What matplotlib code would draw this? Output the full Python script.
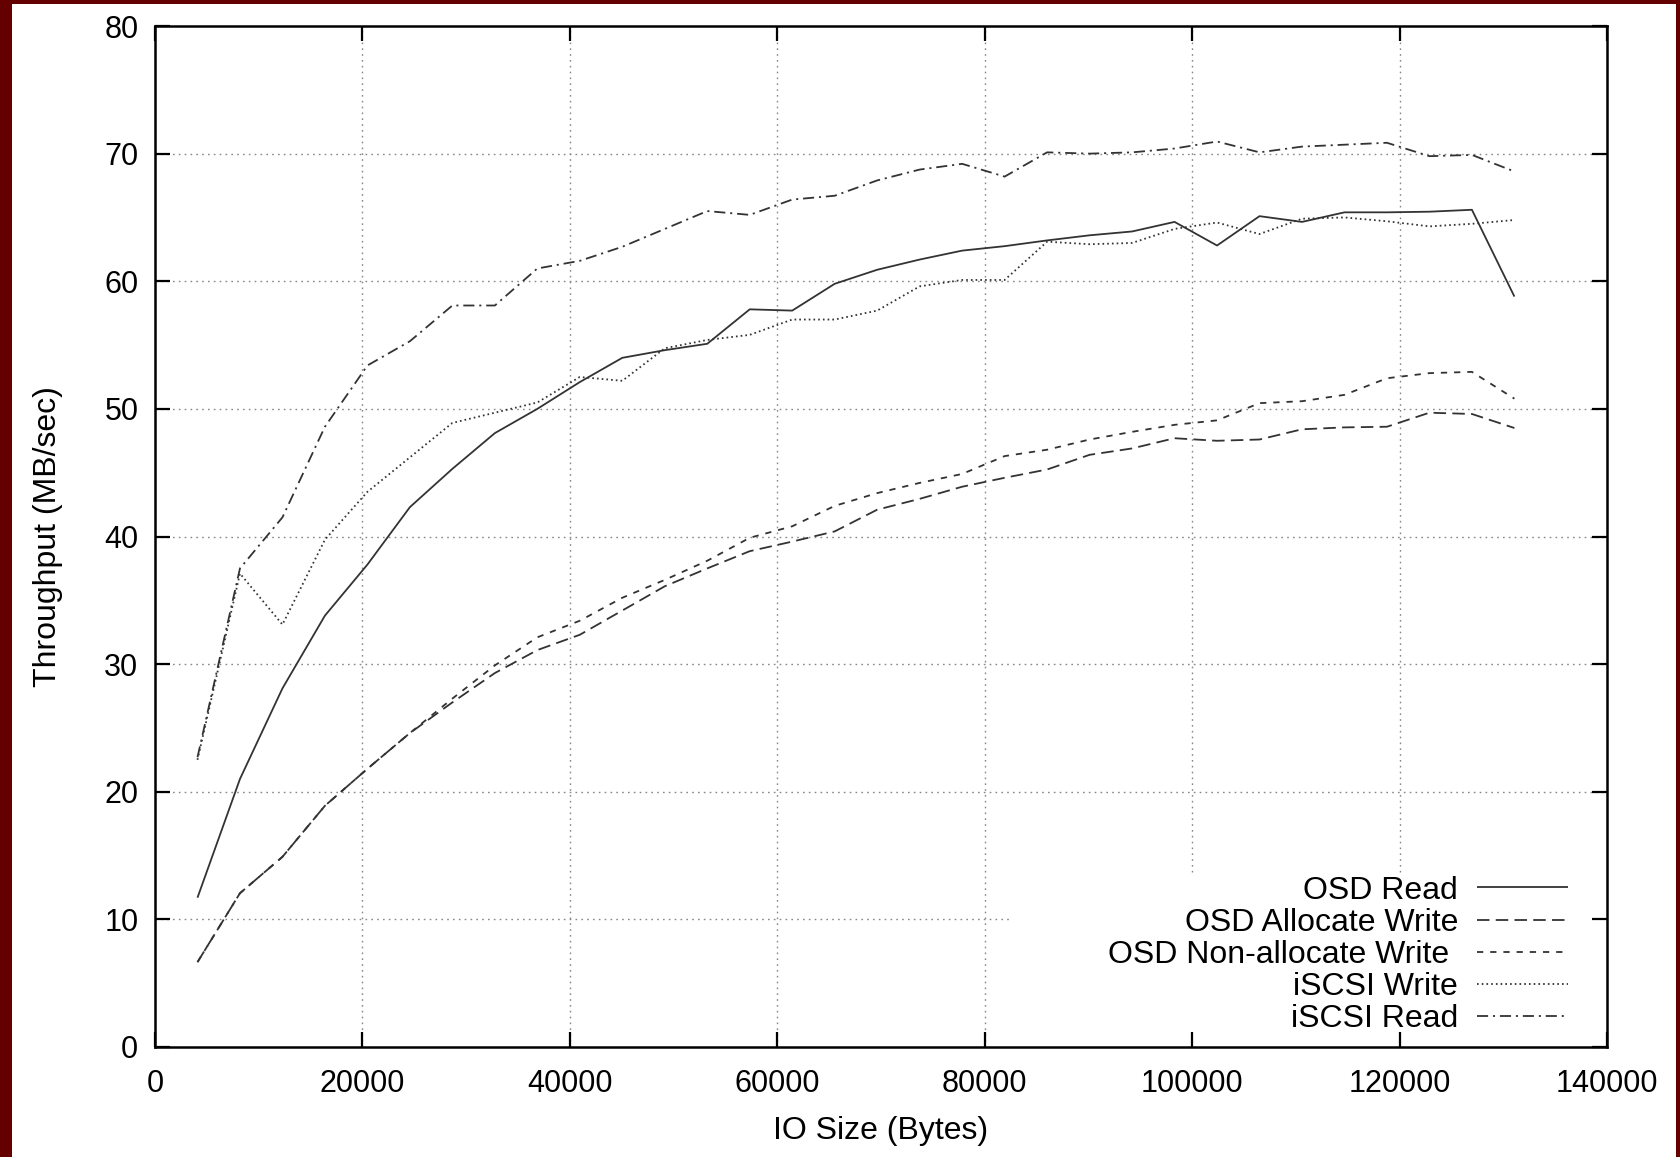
import matplotlib
matplotlib.use("Agg")
from matplotlib import pyplot as plt
from matplotlib.patches import Rectangle
import numpy as np

plt.rcParams['font.family'] = ['Liberation Sans', 'DejaVu Sans']
plt.rcParams['lines.scale_dashes'] = False

# IO sizes: 4 KB steps up to 128 KB
io_size = [4096 * k for k in range(1, 33)]

osd_read = [11.7, 21.0, 28.1, 33.8, 37.8, 42.3, 45.3, 48.1, 50.0, 52.1,
            54.0, 54.6, 55.1, 57.8, 57.7, 59.8, 60.9, 61.7, 62.4, 62.75,
            63.2, 63.6, 63.9, 64.65, 62.8, 65.1, 64.65, 65.4, 65.4, 65.45,
            65.6, 58.8]
osd_alloc_write = [6.65, 12.05, 14.9, 18.9, 21.8, 24.6, 27.0, 29.3, 31.1, 32.3,
                   34.2, 36.1, 37.5, 38.85, 39.6, 40.4, 42.1, 42.95, 43.9, 44.6,
                   45.25, 46.4, 46.9, 47.7, 47.5, 47.6, 48.4, 48.55, 48.6, 49.7,
                   49.6, 48.5]
osd_nonalloc_write = [6.65, 12.05, 14.9, 18.9, 21.8, 24.6, 27.3, 29.9, 32.1, 33.4,
                      35.2, 36.6, 38.1, 39.9, 40.8, 42.4, 43.4, 44.2, 44.9, 46.3,
                      46.8, 47.6, 48.2, 48.75, 49.1, 50.45, 50.6, 51.1, 52.4, 52.8,
                      52.9, 50.8]
iscsi_write = [22.5, 37.1, 33.1, 39.75, 43.5, 46.2, 48.9, 49.7, 50.5, 52.5,
               52.2, 54.75, 55.4, 55.8, 57.0, 57.0, 57.7, 59.6, 60.1, 60.1,
               63.1, 62.9, 63.0, 64.1, 64.6, 63.7, 64.9, 65.0, 64.7, 64.3,
               64.5, 64.8]
iscsi_read = [22.7, 37.5, 41.5, 48.6, 53.4, 55.3, 58.1, 58.1, 61.0, 61.6,
              62.7, 64.1, 65.5, 65.2, 66.4, 66.7, 67.9, 68.75, 69.2, 68.2,
              70.1, 70.0, 70.1, 70.4, 70.95, 70.1, 70.55, 70.7, 70.85, 69.8,
              69.9, 68.6]

xticks = np.arange(0, 140001, 20000)
yticks = np.arange(0, 81, 10)

series = [
    ("OSD Read", osd_read, (0, ())),
    ("OSD Allocate Write", osd_alloc_write, (0, (9, 4.5))),
    ("OSD Non-allocate Write ", osd_nonalloc_write, (0, (4.5, 5))),
    ("iSCSI Write", iscsi_write, (0, (1.2, 2.2))),
    ("iSCSI Read", iscsi_read, (0, (8, 3.5, 1.5, 3.5))),
]

fig = plt.figure(figsize=(16.81, 11.57), dpi=100)
fig.patch.set_facecolor('#650000')
W, H = 1681, 1157
fig.patches.append(Rectangle((12 / W, 0), (W - 12 - 5) / W, (H - 4) / H,
                             transform=fig.transFigure, facecolor='white',
                             edgecolor='none', zorder=-10))

ax = fig.add_axes([155 / W, 1 - 1047 / H, (1607 - 155) / W, (1047 - 26) / H])

for label, vals, ls in series:
    ax.plot(io_size, vals, color='#333333', lw=1.3, linestyle=ls, label=label)

ax.set_xlim(0, 140000)
ax.set_ylim(0, 80)
ax.set_xticks(xticks)
ax.set_yticks(yticks)

# grid drawn by hand so the key box can hide it while the ticks stay on top
grid_kw = dict(color='#888888', linestyle=(0, (1.2, 3)), lw=1.0, zorder=0.6)
for v in yticks[1:-1]:
    ax.axhline(v, **grid_kw)
for v in xticks[1:-1]:
    ax.axvline(v, **grid_kw)
ax.add_patch(Rectangle((0.5895, 0), 0.4105, 0.1697, transform=ax.transAxes,
                       facecolor='white', edgecolor='none', zorder=0.8))

ax.tick_params(direction='in', length=11, width=1.6, top=True, right=True,
               labelsize=22, pad=12, colors='black')
ax.tick_params(axis='x', pad=16)
for s in ax.spines.values():
    s.set_linewidth(1.8)

ax.set_xlabel("IO Size (Bytes)", fontsize=23, labelpad=12)
ax.set_ylabel("Throughput (MB/sec)", fontsize=23, labelpad=30)

leg = ax.legend(loc='lower right', bbox_to_anchor=(0.982, 0.0),
                fontsize=23, frameon=False,
                markerfirst=False, handlelength=2.85, handletextpad=0.6,
                labelspacing=0.068, borderaxespad=0.0, borderpad=0.4)
for t in leg.get_texts():
    t.set_ha('right')

fig.savefig("out.png", dpi=100, facecolor=fig.get_facecolor())
